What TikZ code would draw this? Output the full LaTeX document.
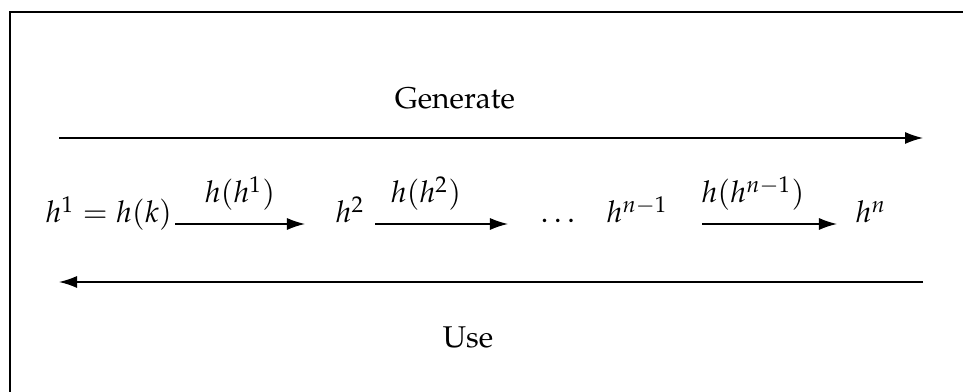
\documentclass[tikz,border=0pt]{standalone}
\usepackage[T1]{fontenc}
\usepackage{mathpazo}
\usetikzlibrary{arrows.meta}
\tikzset{
  lbl/.style={inner sep=0pt, anchor=base},
  term/.style={inner sep=0pt, anchor=base west},
  conn/.style={line width=0.45pt, -{Latex[length=6pt,width=4pt]}},
  frameline/.style={line width=0.5pt}
}
\begin{document}
\begin{tikzpicture}[x=0.3333pt,y=-0.3333pt]
\useasboundingbox (0,0) rectangle (963,392);
% frame (cropped)
\draw[frameline] (10,392) -- (10,12) -- (963,12);
% top
\node[lbl] (gen) at (455,109) {Generate};
\coordinate (gs) at (59,138);
\coordinate (ge) at (923,138);
\draw[conn] (gs) -- (ge);
% middle row
\node[term] (n1) at (45,223) {$h^1 = h(k)$};
\node[term] (n2) at (335,223) {$h^2$};
\node[term] (nd) at (540,223) {$\dots$};
\node[term] (n3) at (606,223) {$h^{n-1}$};
\node[term] (n4) at (855,223) {$h^n$};
\coordinate (a1s) at (175,224); \coordinate (a1e) at (305,224);
\coordinate (a2s) at (375,224); \coordinate (a2e) at (508,224);
\coordinate (a3s) at (702,224); \coordinate (a3e) at (837,224);
\draw[conn] (a1s) -- (a1e);
\draw[conn] (a2s) -- (a2e);
\draw[conn] (a3s) -- (a3e);
\node[lbl] (l1) at (240,203) {$h(h^1)$};
\node[lbl] (l2) at (426,203) {$h(h^2)$};
\node[lbl] (l3) at (753,203) {$h(h^{n-1})$};
% bottom
\coordinate (us) at (923,282);
\coordinate (ue) at (59,282);
\draw[conn] (us) -- (ue);
\node[lbl] (use) at (468,348) {Use};
\end{tikzpicture}
\end{document}
